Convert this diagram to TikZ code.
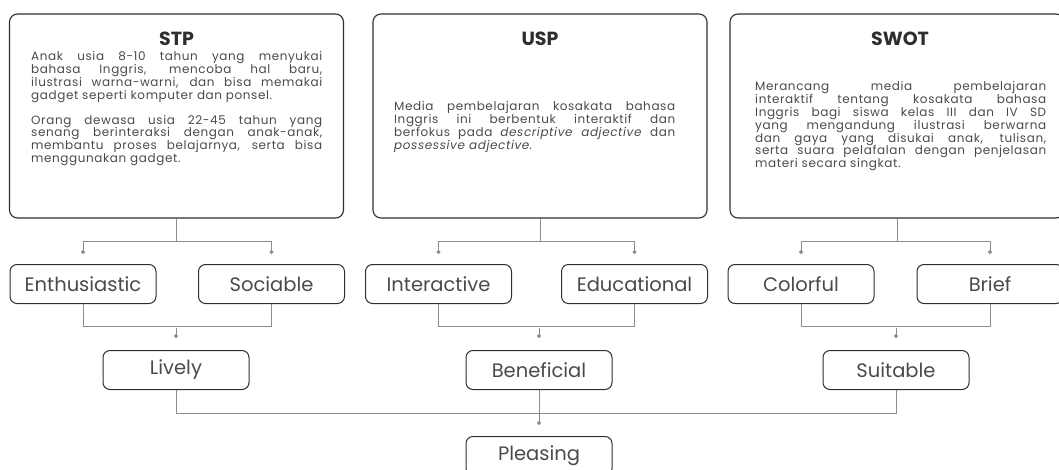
\documentclass[tikz,border=0pt]{standalone}
\usepackage{fontspec}
\setmainfont{Poppins}
\newfontfamily\bodyfont[LetterSpace=5]{Poppins}
\usetikzlibrary{positioning,calc,arrows.meta}
\definecolor{boxline}{HTML}{2E2E2E}
\definecolor{linkgray}{HTML}{8C8C8C}
\definecolor{bodytext}{HTML}{4A4A4A}
\hyphenpenalty=10000
\exhyphenpenalty=10000
\tikzset{
	panel/.style={
		draw=boxline, line width=1.1pt,
		rounded corners=8pt,
		minimum width=334pt,
		minimum height=204pt,
		inner sep=0pt},
	paneltitle/.style={font=\fontsize{19}{22}\selectfont\bfseries, text=boxline, inner sep=0pt},
	paneltext/.style={
		text width=291pt, align=justify,
		font=\bodyfont\fontsize{12}{12.8}\selectfont,
		text=bodytext, inner sep=0pt},
	trait/.style={
		draw=boxline, line width=1pt,
		rounded corners=7pt,
		minimum width=146pt,
		minimum height=39pt,
		font=\fontsize{19.5}{22}\selectfont,
		text=bodytext, inner sep=0pt},
	link/.style={draw=linkgray, line width=1pt},
	dotend/.style={-{Circle[length=4pt]}, shorten >=#1},
	dotend/.default=10pt,
}

\begin{document}
\begin{tikzpicture}[x=1pt, y=-1pt]
\useasboundingbox (0,0) rectangle (1059,470);

% the three analysis panels
\node[panel] (stp)  at (176.5,116) {};
\node[panel] (usp)  at (540,116)   {};
\node[panel] (swot) at (897,116)   {};

\node[paneltitle, anchor=base] (stptitle)  at (176.5,46) {STP};
\node[paneltitle, anchor=base] (usptitle)  at (540,46)   {USP};
\node[paneltitle, anchor=base] (swottitle) at (900,46)   {SWOT};

\node[paneltext, anchor=base west] (stptext) at (31,61) {%
Anak usia 8-10 tahun yang menyukai\linebreak
bahasa Inggris, mencoba hal baru,\linebreak
ilustrasi warna-warni, dan bisa memakai\linebreak
gadget seperti komputer dan ponsel.\par\vspace{12pt}
Orang dewasa usia 22-45 tahun yang\linebreak
senang berinteraksi dengan anak-anak,\linebreak
membantu proses belajarnya, serta bisa\linebreak
menggunakan gadget.};

\node[paneltext, text width=281pt, anchor=base west] (usptext) at (394,111) {%
Media pembelajaran kosakata bahasa\linebreak
Inggris ini berbentuk interaktif dan\linebreak
berfokus pada \textit{descriptive adjective} dan\linebreak
\textit{possessive adjective}.};

\node[paneltext, anchor=base west] (swottext) at (755,91) {%
Merancang media pembelajaran\linebreak
interaktif tentang kosakata bahasa\linebreak
Inggris bagi siswa kelas III dan IV SD\linebreak
yang mengandung ilustrasi berwarna\linebreak
dan gaya yang disukai anak, tulisan,\linebreak
serta suara pelafalan dengan penjelasan\linebreak
materi secara singkat.};

% traits
\node[trait] (enth)  at (83,284)    {Enthusiastic};
\node[trait] (soc)   at (271.5,284) {Sociable};
\node[trait] (inter) at (438.5,284) {Interactive};
\node[trait] (edu)   at (634.5,284) {Educational};
\node[trait] (color) at (801,284)   {Colorful};
\node[trait] (brief) at (990,284)   {Brief};

\node[trait] (lively) at (176,370) {Lively};
\node[trait] (benef)  at (539,370) {Beneficial};
\node[trait] (suit)   at (896,370) {Suitable};

\node[trait] (pleas) at (539,456) {Pleasing};

% panel -> traits
\foreach \src/\lhs/\rhs in {stp/enth/soc, usp/inter/edu, swot/color/brief}{
	\draw[link] (\src.south) -- ++(0,23) coordinate (\src fork);
	\draw[link, dotend] (\src fork) -| (\lhs.north);
	\draw[link, dotend] (\src fork) -| (\rhs.north);
}

% traits -> summary
\foreach \lhs/\rhs/\dst in {enth/soc/lively, inter/edu/benef, color/brief/suit}{
	\draw[link] (\lhs.south) -- ++(0,22) -| (\rhs.south);
	\draw[link, dotend=12pt] (\dst.north |- 0,328) -- (\dst.north);
}

% summary -> pleasing
\draw[link] (lively.south) -- ++(0,23) -| (suit.south);
\draw[link, dotend=11pt] (benef.south) -- (pleas.north);
\end{tikzpicture}
\end{document}
